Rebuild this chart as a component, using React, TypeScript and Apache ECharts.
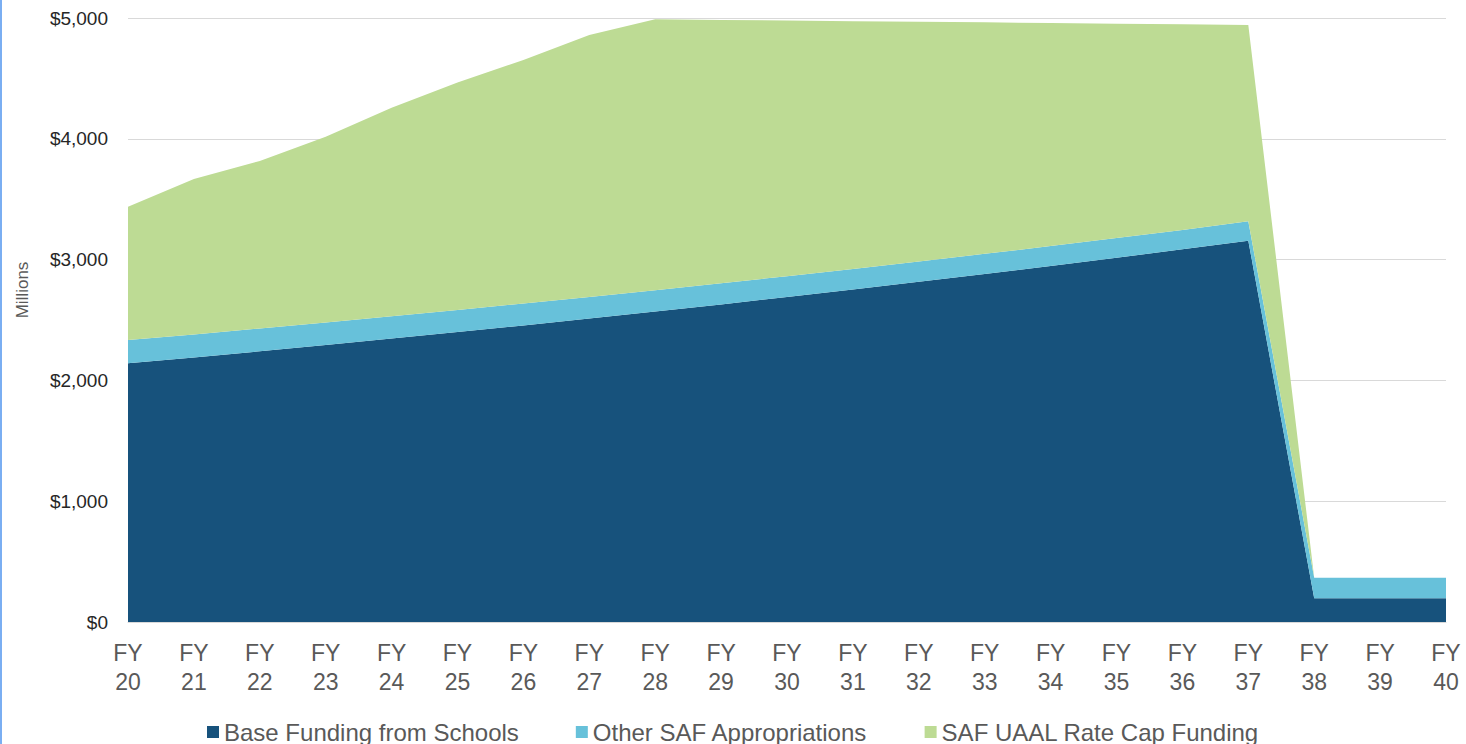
import React, { useEffect, useRef } from "react";
import * as echarts from "echarts";

const categories = [
  "FY\n20", "FY\n21", "FY\n22", "FY\n23", "FY\n24", "FY\n25", "FY\n26",
  "FY\n27", "FY\n28", "FY\n29", "FY\n30", "FY\n31", "FY\n32", "FY\n33",
  "FY\n34", "FY\n35", "FY\n36", "FY\n37", "FY\n38", "FY\n39", "FY\n40",
];

const baseFunding = [
  2141, 2190, 2241, 2293, 2346, 2400, 2455, 2512, 2570, 2629, 2690,
  2752, 2816, 2881, 2947, 3015, 3085, 3157, 196, 196, 196,
];

const otherSaf = [
  193, 191, 189, 187, 185, 183, 181, 179, 177, 175, 173,
  171, 169, 167, 165, 163, 161, 160, 171, 171, 171,
];

const rateCap = [
  1104, 1286, 1386, 1538, 1727, 1884, 2016, 2168, 2242, 2180, 2116,
  2051, 1984, 1916, 1846, 1775, 1702, 1625, 0, 0, 0,
];

const yTicks = { min: 0, max: 5000, interval: 1000 };

const seriesNames = [
  "Base Funding from Schools",
  "Other SAF Appropriations",
  "SAF UAAL Rate Cap Funding",
];
const colors = ["#17527c", "#67c1da", "#bddb94"];

const FONT = "'Liberation Sans', Arial, Helvetica, sans-serif";

export default function App() {
  const ref = useRef<HTMLDivElement>(null);

  useEffect(() => {
    if (!ref.current) return;
    const chart = echarts.init(ref.current, null, { renderer: "svg" });
    const data = [baseFunding, otherSaf, rateCap];
    chart.setOption({
      animation: false,
      backgroundColor: "#ffffff",
      color: colors,
      textStyle: { fontFamily: FONT },
      grid: { left: 128, right: 20, top: 18, bottom: 122, containLabel: false },
      legend: {
        bottom: -5,
        left: 202,
        itemWidth: 12,
        itemHeight: 12,
        itemGap: 57,
        icon: "rect",
        textStyle: { fontSize: 24, color: "#595959", fontFamily: FONT },
        data: seriesNames,
      },
      xAxis: {
        type: "category",
        data: categories,
        boundaryGap: false,
        axisLine: { show: true, lineStyle: { color: "#d9d9d9", width: 1 } },
        axisTick: { show: false },
        axisLabel: {
          fontSize: 23,
          lineHeight: 29,
          color: "#595959",
          margin: 16,
          interval: 0,
          fontFamily: FONT,
        },
        splitLine: { show: false },
      },
      yAxis: {
        type: "value",
        min: yTicks.min,
        max: yTicks.max,
        interval: yTicks.interval,
        axisLine: { show: false },
        axisTick: { show: false },
        axisLabel: {
          fontSize: 19,
          color: "#262626",
          margin: 20,
          fontFamily: FONT,
          formatter: (v: number) => "$" + v.toLocaleString("en-US"),
        },
        splitLine: { lineStyle: { color: "#d9d9d9", width: 1 } },
      },
      graphic: [
        {
          type: "rect",
          left: 0,
          top: 0,
          shape: { width: 2, height: 744 },
          style: { fill: "#7aaef2" },
          silent: true,
        },
        {
          type: "text",
          x: 22,
          y: 290,
          rotation: Math.PI / 2,
          style: {
            text: "Millions",
            fontSize: 17,
            fill: "#595959",
            fontFamily: FONT,
            align: "center",
            verticalAlign: "middle",
          },
        },
      ],
      series: seriesNames.map((name, i) => ({
        name,
        type: "line",
        stack: "total",
        data: data[i],
        symbol: "none",
        lineStyle: { width: 0 },
        areaStyle: { color: colors[i], opacity: 1 },
        itemStyle: { color: colors[i] },
      })),
    });
    return () => chart.dispose();
  }, []);

  return (
    <div
      ref={ref}
      style={{ position: "fixed", left: 0, top: 0, width: 1466, height: 744 }}
    />
  );
}
